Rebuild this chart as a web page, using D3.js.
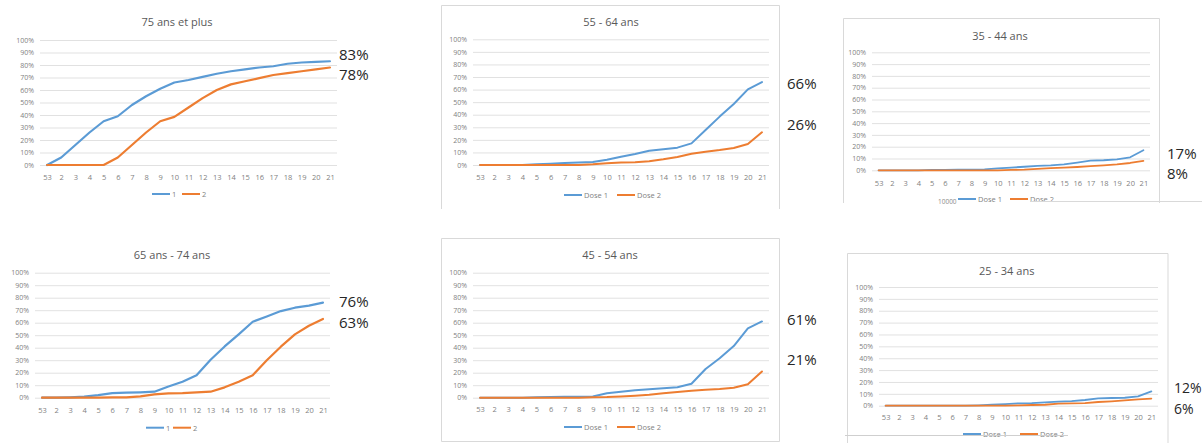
<!DOCTYPE html>
<html>
<head>
<meta charset="utf-8">
<script src="https://cdn.jsdelivr.net/npm/d3@7"></script>
<style>
  html, body { margin: 0; padding: 0; background: #ffffff; }
  svg { display: block; font-family: "Open Sans", "Noto Sans", sans-serif; }
</style>
</head>
<body>
<svg id="chart" width="1202" height="443"></svg>
<script>
// Semaines (53 = dernière semaine de 2020, puis semaines 2 à 21)
const weeks = ["53","2","3","4","5","6","7","8","9","10","11","12","13","14","15","16","17","18","19","20","21"];
const yTicks = [0,10,20,30,40,50,60,70,80,90,100];

// Couverture vaccinale cumulée (%) par tranche d'âge
const dose1_75plus = [0,6,16,26,35,39,48,55,61,66,68,70.5,73,75,76.5,78,79,81,82,82.5,83];
const dose2_75plus = [0,0,0,0,0,6,16,26,35,38.5,46,53.5,60,64.5,67,69.5,72,73.5,75,76.5,78];

const dose1_65_74 = [0,0,0.3,0.8,2.1,3.7,4,4.3,4.8,9,12.8,18,30.4,41,50.7,60.8,65,69.3,72,73.6,76];
const dose2_65_74 = [0,0,0,0,0,0.2,0.3,1,2.7,3.5,3.7,4.2,4.8,8.3,12.8,18,30,40.8,50.7,57.6,63];

const dose1_55_64 = [0,0,0,0,0.5,1,1.6,1.9,2.4,4.2,6.6,8.8,11.4,12.5,13.8,17.2,27.9,38.5,48.5,60.2,66];
const dose2_55_64 = [0,0,0,0,0,0,0,0,0.5,1.3,1.9,2.1,2.9,4.5,6.4,9,10.6,11.9,13.5,16.7,26];

const dose1_45_54 = [0,0,0,0,0.3,0.5,0.8,0.8,1,3.5,4.8,5.9,6.7,7.5,8.3,11.2,23,31.5,41.3,55.5,61];
const dose2_45_54 = [0,0,0,0,0,0,0,0,0.3,0.5,1,1.6,2.4,3.5,4.5,5.6,6.4,7,8,10.7,21];

const dose1_35_44 = [0,0,0,0,0.3,0.4,0.5,0.5,0.8,1.7,2.3,3,3.7,4.2,5,6.5,8.2,8.5,9.3,11,17];
const dose2_35_44 = [0,0,0,0,0,0,0,0,0,0,0.3,0.6,1.2,1.8,2.3,2.8,3.5,4.2,5,6.2,8];

const dose1_25_34 = [0,0,0,0,0,0,0,0.3,0.8,1.4,2,2.2,2.8,3.4,3.9,4.8,6.2,6.5,6.7,7.9,12];
const dose2_25_34 = [0,0,0,0,0,0,0,0,0,0,0.3,0.6,0.8,1.7,2,2.2,3.1,3.7,4.5,5.3,6];

const BLUE = "#5b9bd5", ORANGE = "#ed7d31";

// Disposition des six graphiques
const panels = [
  { title: "75 ans et plus", d1: dose1_75plus, d2: dose2_75plus, names: ["1","2"],
    gx: [40, 337], gy: [165, 40], titleXY: [177, 21], xLabY: 177,
    leg: [152, 182, 194], annX: 339, annDy: [-7, 6.5], annSize: 15, frame: null, lw: 2.2 },
  { title: "55 - 64 ans", d1: dose1_55_64, d2: dose2_55_64, names: ["Dose 1","Dose 2"],
    gx: [473, 769], gy: [165, 39.3], titleXY: [611, 21], xLabY: 177,
    leg: [564, 617, 195], annX: 787, annDy: [1, -8], annSize: 15,
    frame: { x0: 441.5, x1: 779.5, y0: 5.5, y1: 209, bottom: false }, lw: 2 },
  { title: "35 - 44 ans", d1: dose1_35_44, d2: dose2_35_44, names: ["Dose 1","Dose 2"],
    gx: [872, 1150], gy: [170.3, 52.3], titleXY: [1000, 35], xLabY: 183,
    leg: [958, 1010, 199], annX: 1167, annDy: [3, 12], annSize: 15,
    frame: { x0: 843.5, x1: 1159.5, y0: 18.5, y1: 203, bottom: false }, lw: 1.8 },
  { title: "65 ans - 74 ans", d1: dose1_65_74, d2: dose2_65_74, names: ["1","2"],
    gx: [35, 330], gy: [397.7, 272.7], titleXY: [172, 254], xLabY: 410,
    leg: [146, 173, 427.7], annX: 339, annDy: [-2, 3], annSize: 15, frame: null, lw: 2.2 },
  { title: "45 - 54 ans", d1: dose1_45_54, d2: dose2_45_54, names: ["Dose 1","Dose 2"],
    gx: [473, 769], gy: [397.7, 272.7], titleXY: [610, 254], xLabY: 409,
    leg: [564, 617, 427], annX: 787, annDy: [-2.5, -12.5], annSize: 15,
    frame: { x0: 441.5, x1: 779.5, y0: 238.5, y1: 441.5, bottom: true }, lw: 2 },
  { title: "25 - 34 ans", d1: dose1_25_34, d2: dose2_25_34, names: ["Dose 1","Dose 2"],
    gx: [879, 1158], gy: [405.7, 287], titleXY: [1006.7, 270], xLabY: 417.7,
    leg: [963, 1020, 434], annX: 1174, annDy: [-3.5, 10], annSize: 14,
    frame: { x0: 847.5, x1: 1168, y0: 253.5, y1: 450, bottom: false }, lw: 1.8 }
];

const svg = d3.select("#chart");
const pct = d => d3.format(".0f")(d) + "%";

panels.forEach(p => {
  const g = svg.append("g");
  const x = d3.scalePoint().domain(weeks).range(p.gx).padding(0.5);
  const y = d3.scaleLinear().domain([0, 100]).range(p.gy);

  // cadre
  if (p.frame) {
    const f = p.frame;
    const path = p.frame.bottom
      ? `M${f.x0},${f.y0}H${f.x1}V${f.y1}H${f.x0}Z`
      : `M${f.x0},${f.y1}V${f.y0}H${f.x1}V${f.y1}`;
    g.append("path").attr("d", path).attr("fill", "none")
      .attr("stroke", "#d9d9d9").attr("stroke-width", 1);
  }

  // titre
  g.append("text").attr("x", p.titleXY[0]).attr("y", p.titleXY[1])
    .attr("text-anchor", "middle").attr("dominant-baseline", "central")
    .attr("font-size", 11).attr("fill", "#595959").text(p.title);

  // grille + axe Y
  const yAxis = d3.axisLeft(y).tickValues(yTicks).tickFormat(d => d + "%")
    .tickSize(-(p.gx[1] - p.gx[0])).tickPadding(6);
  const ya = g.append("g").attr("transform", `translate(${p.gx[0]},0)`).call(yAxis);
  ya.select(".domain").remove();
  ya.selectAll(".tick line").attr("stroke", "#d9d9d9").attr("stroke-width", 0.8);
  ya.selectAll(".tick text").attr("font-size", 7).attr("fill", "#7f7f7f")
    .attr("font-family", "\"Open Sans\", sans-serif");

  // axe X (étiquettes uniquement)
  const xAxis = d3.axisBottom(x).tickSize(0).tickPadding(0);
  const xa = g.append("g").attr("transform", `translate(0,${p.xLabY})`).call(xAxis);
  xa.select(".domain").remove();
  xa.selectAll(".tick text").attr("font-size", 7.5).attr("fill", "#7f7f7f")
    .attr("dy", "0.35em").attr("font-family", "\"Open Sans\", sans-serif");

  // courbes
  const line = d3.line().x((d, i) => x(weeks[i])).y(d => y(d));
  [[p.d1, BLUE], [p.d2, ORANGE]].forEach(([vals, c]) => {
    g.append("path").datum(vals).attr("d", line).attr("fill", "none")
      .attr("stroke", c).attr("stroke-width", p.lw)
      .attr("stroke-linejoin", "round").attr("stroke-linecap", "round");
  });

  // légende
  [[p.leg[0], BLUE, p.names[0]], [p.leg[1], ORANGE, p.names[1]]].forEach(([lx, c, name]) => {
    g.append("line").attr("x1", lx).attr("x2", lx + 18).attr("y1", p.leg[2]).attr("y2", p.leg[2])
      .attr("stroke", c).attr("stroke-width", 2);
    g.append("text").attr("x", lx + 20).attr("y", p.leg[2]).attr("dominant-baseline", "central")
      .attr("font-size", 7.5).attr("fill", "#7f7f7f").text(name);
  });

  // valeurs finales
  [[p.d1, p.annDy[0]], [p.d2, p.annDy[1]]].forEach(([vals, dy]) => {
    const v = vals[vals.length - 1];
    g.append("text").attr("x", p.annX).attr("y", y(v) + dy)
      .attr("dominant-baseline", "central").attr("font-size", p.annSize)
      .attr("fill", "#262626").text(pct(v));
  });
});

// traits et texte résiduels autour des graphiques de droite
svg.append("line").attr("x1", 1030).attr("x2", 1202).attr("y1", 201.5).attr("y2", 201.5)
  .attr("stroke", "#d9d9d9").attr("stroke-width", 1);
svg.append("line").attr("x1", 845).attr("x2", 1068).attr("y1", 435.5).attr("y2", 435.5)
  .attr("stroke", "#cfcfcf").attr("stroke-width", 1);
svg.append("text").attr("x", 938).attr("y", 201).attr("dominant-baseline", "central")
  .attr("font-size", 6.5).attr("fill", "#8c8c8c").text("10000");
</script>
</body>
</html>
